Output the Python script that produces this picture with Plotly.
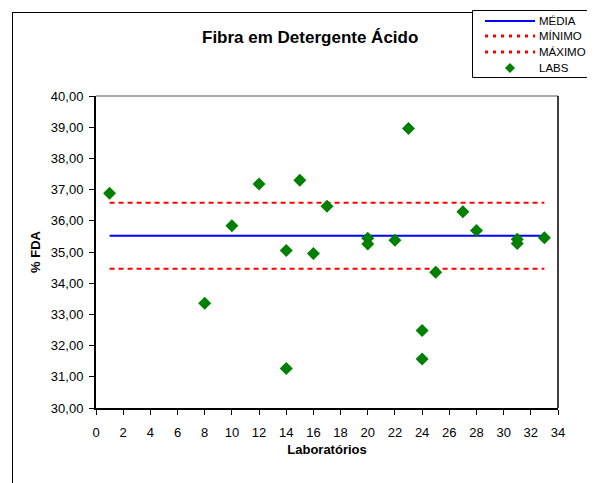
import plotly.graph_objects as go

# ---- data ----
labs = [1, 8, 10, 12, 14, 14, 15, 16, 17, 20, 20, 22, 23, 24, 24, 25, 27, 28, 31, 31, 33]
fda = [36.88, 33.36, 35.84, 37.18, 35.05, 31.27, 37.30, 34.95, 36.47, 35.44, 35.26,
       35.38, 38.96, 32.48, 31.57, 34.35, 36.29, 35.69, 35.41, 35.27, 35.46]
line_x = [1, 33]
media = [35.52, 35.52]
minimo = [34.46, 34.46]
maximo = [36.58, 36.58]
x_ticks = list(range(0, 35, 2))
y_ticks = list(range(30, 41))
legend_names = ["MÉDIA", "MÍNIMO", "MÁXIMO", "LABS"]

OFF = 8                      # page body margin
W, H = 595 - OFF, 483 - OFF
L, R, T, B = 96 - OFF, 558 - OFF, 96 - OFF, 408 - OFF


def px(x):  # page pixel -> paper
    return (x - OFF - L) / (R - L)


def py(y):
    return (B - (y - OFF)) / (B - T)


BLUE, RED, GREEN = "#0000FF", "#FF0000", "#008000"
font = "Liberation Sans, Arial, sans-serif"

fig = go.Figure()
fig.add_trace(go.Scatter(x=line_x, y=media, mode="lines", name=legend_names[0],
                         line=dict(color=BLUE, width=2)))
fig.add_trace(go.Scatter(x=line_x, y=minimo, mode="lines", name=legend_names[1],
                         line=dict(color=RED, width=2, dash="5px,4px")))
fig.add_trace(go.Scatter(x=line_x, y=maximo, mode="lines", name=legend_names[2],
                         line=dict(color=RED, width=2, dash="5px,4px")))
fig.add_trace(go.Scatter(x=labs, y=fda, mode="markers", name=legend_names[3],
                         marker=dict(symbol="diamond", color=GREEN, size=10,
                                     line=dict(width=0))))

shapes = [
    # plot area frame (top/right)
    dict(type="line", xref="paper", yref="paper", x0=0, x1=1, y0=1, y1=1,
         line=dict(color="#555555", width=1)),
    dict(type="line", xref="paper", yref="paper", x0=1, x1=1, y0=0, y1=1,
         line=dict(color="black", width=1.5)),
    # outer chart border
    dict(type="line", xref="paper", yref="paper", x0=px(12.5), x1=px(12.5),
         y0=py(12), y1=py(495), line=dict(color="black", width=1)),
    dict(type="line", xref="paper", yref="paper", x0=px(12), x1=px(610),
         y0=py(12.5), y1=py(12.5), line=dict(color="black", width=1)),
    # legend box
    dict(type="rect", xref="paper", yref="paper", x0=px(472.5), x1=px(620),
         y0=py(77.5), y1=py(10.5), line=dict(color="black", width=1),
         fillcolor="white", layer="above"),
]
annotations = [dict(text="<b>Fibra em Detergente Ácido</b>", xref="paper", yref="paper",
                    x=px(310), y=py(37), xanchor="center", yanchor="middle",
                    showarrow=False, font=dict(size=17, family=font, color="black"))]

# manual legend (compact rows like the original)
rows_y = [21, 36, 52, 68]
styles = [dict(color=BLUE, width=2), dict(color=RED, width=3, dash="3px,5px"),
          dict(color=RED, width=3, dash="3px,5px")]
for i, name in enumerate(legend_names):
    yy = rows_y[i]
    if i < 3:
        shapes.append(dict(type="line", xref="paper", yref="paper", x0=px(485), x1=px(535),
                           y0=py(yy), y1=py(yy), line=styles[i], layer="above"))
    else:
        cx, cy, r = 510, yy, 5
        path = (f"M {px(cx - r)},{py(cy)} L {px(cx)},{py(cy - r)} "
                f"L {px(cx + r)},{py(cy)} L {px(cx)},{py(cy + r)} Z")
        shapes.append(dict(type="path", xref="paper", yref="paper", path=path,
                           fillcolor=GREEN, line=dict(width=0), layer="above"))
    annotations.append(dict(text=name, xref="paper", yref="paper", x=px(537), y=py(yy),
                            xanchor="left", yanchor="middle", showarrow=False,
                            font=dict(size=11.5, family=font, color="black")))

fig.update_layout(
    width=W, height=H,
    margin=dict(l=L, r=W - R, t=T, b=H - B, pad=0),
    paper_bgcolor="white", plot_bgcolor="white",
    separators=",.",
    font=dict(family=font, size=13, color="black"),
    showlegend=False,
    xaxis=dict(range=[0, 34], tickvals=x_ticks, ticks="outside", ticklen=5,
               tickcolor="black", showgrid=False, zeroline=False,
               showline=True, linecolor="black", linewidth=2,
               tickfont=dict(size=13), ticklabelstandoff=6, automargin=False,
               title=dict(text="<b>Laboratórios</b>", font=dict(size=13), standoff=6)),
    yaxis=dict(range=[30, 40], tickvals=y_ticks, tickformat=".2f", ticks="outside",
               ticklen=5, tickcolor="black", showgrid=False, zeroline=False,
               showline=True, linecolor="black", linewidth=2,
               tickfont=dict(size=13), ticklabelstandoff=3, automargin=False,
               title=dict(text="<b>% FDA</b>", font=dict(size=13), standoff=7)),
    annotations=annotations,
    shapes=shapes,
)

fig.write_html("out.html")
